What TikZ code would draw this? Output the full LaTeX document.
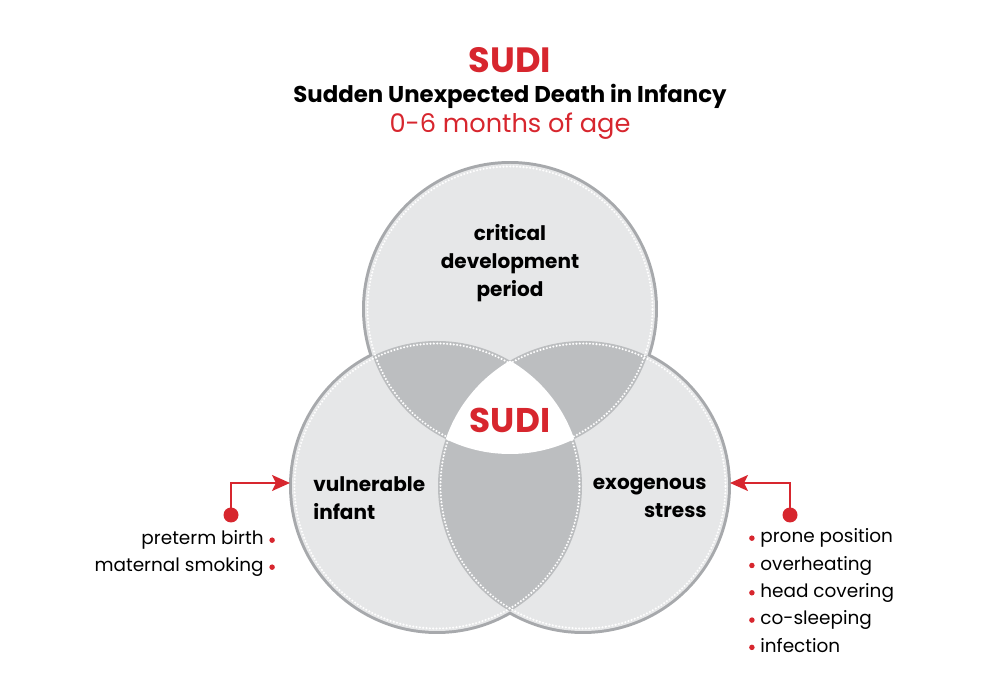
\documentclass[tikz,border=0pt]{standalone}
\usepackage{fontspec}
\setmainfont{Poppins}
\usetikzlibrary{positioning, arrows.meta}

\definecolor{sudired}{RGB}{215,38,46}
\definecolor{circlefill}{RGB}{230,231,232}
\definecolor{lensfill}{RGB}{188,190,192}
\definecolor{rimgray}{RGB}{167,169,172}

\begin{document}
\begin{tikzpicture}[
    x=1cm, y=1cm,
    every node/.style={align=center, inner sep=0pt},
    label/.style={font=\bfseries\fontsize{11.4}{16.2}\selectfont},
    listitem/.style={font=\fontsize{10.5}{12}\selectfont},
    bullet/.style={circle, fill=sudired, minimum size=1.1mm},
    pin/.style={circle, fill=sudired, minimum size=3mm},
    >={Stealth[length=3.6mm,width=3.2mm,inset=0.8mm]}
]
    \def\rad{2.9}
    \useasboundingbox (0,0) rectangle (20,14);

    \coordinate (top) at (10.2, 7.82);
    \coordinate (lft) at (8.74, 4.28);
    \coordinate (rgt) at (11.66, 4.28);

    % rims first, the fills cover their inner half
    \foreach \c in {top, lft, rgt}
        \draw[rimgray, line width=3.4pt] (\c) circle (\rad);
    \foreach \c in {top, lft, rgt}
        \fill[circlefill] (\c) circle (\rad);

    % overlaps
    \foreach \a/\b in {top/lft, top/rgt, lft/rgt}{
        \begin{scope}
            \clip (\a) circle (\rad);
            \fill[lensfill] (\b) circle (\rad);
        \end{scope}
    }
    \begin{scope}
        \clip (top) circle (\rad);
        \clip (lft) circle (\rad);
        \fill[white] (rgt) circle (\rad);
    \end{scope}

    \foreach \c in {top, lft, rgt}
        \draw[white, line width=1.3pt, dash pattern=on 0pt off 1.9pt, line cap=round]
            (\c) circle ({\rad-0.05});

    % titles
    \node[anchor=base, font=\bfseries\fontsize{20}{24}\selectfont, text=sudired] (title) at (10.2, 12.54) {SUDI};
    \node[anchor=base, font=\bfseries\fontsize{13}{16}\selectfont] (subtitle) at (10.2, 11.95) {Sudden Unexpected Death in Infancy};
    \node[anchor=base, font=\fontsize{14.6}{18}\selectfont, text=sudired] (age) at (10.2, 11.34) {0-6 months of age};

    % circle labels (base = last line)
    \node[label, anchor=base] (period) at (10.2, 8.06) {critical\\development\\period};
    \node[label, anchor=base west, align=left] (infant) at (6.26, 3.6) {vulnerable\\infant};
    \node[label, anchor=base east, align=right] (stress) at (14.14, 3.64) {exogenous\\stress};
    \node[anchor=base, font=\bfseries\fontsize{19.5}{24}\selectfont, text=sudired] (core) at (10.2, 5.34) {SUDI};

    % risk factors
    \foreach \txt [count=\i] in {preterm birth, maternal smoking}{
        \node[listitem, anchor=base east] (factor\i) at (5.28, {3.1-0.54*(\i-1)}) {\txt};
        \node[bullet, right=1mm of factor\i.mid east] {};
    }
    \foreach \txt [count=\i] in {prone position, overheating, head covering, co-sleeping, infection}{
        \node[listitem, anchor=base west] (risk\i) at (15.2, {3.14-0.546*(\i-1)}) {\txt};
        \node[bullet, left=1mm of risk\i.mid west] {};
    }

    % pointers
    \node[pin] (infantpin) at (4.62, 3.70) {};
    \coordinate (infanttip) at (5.8, 4.34);
    \draw[sudired, line width=1.1pt, ->] (infantpin.center) |- (infanttip);

    \node[pin] (stresspin) at (15.8, 3.70) {};
    \coordinate (stresstip) at (14.6, 4.34);
    \draw[sudired, line width=1.1pt, ->] (stresspin.center) |- (stresstip);
\end{tikzpicture}
\end{document}
